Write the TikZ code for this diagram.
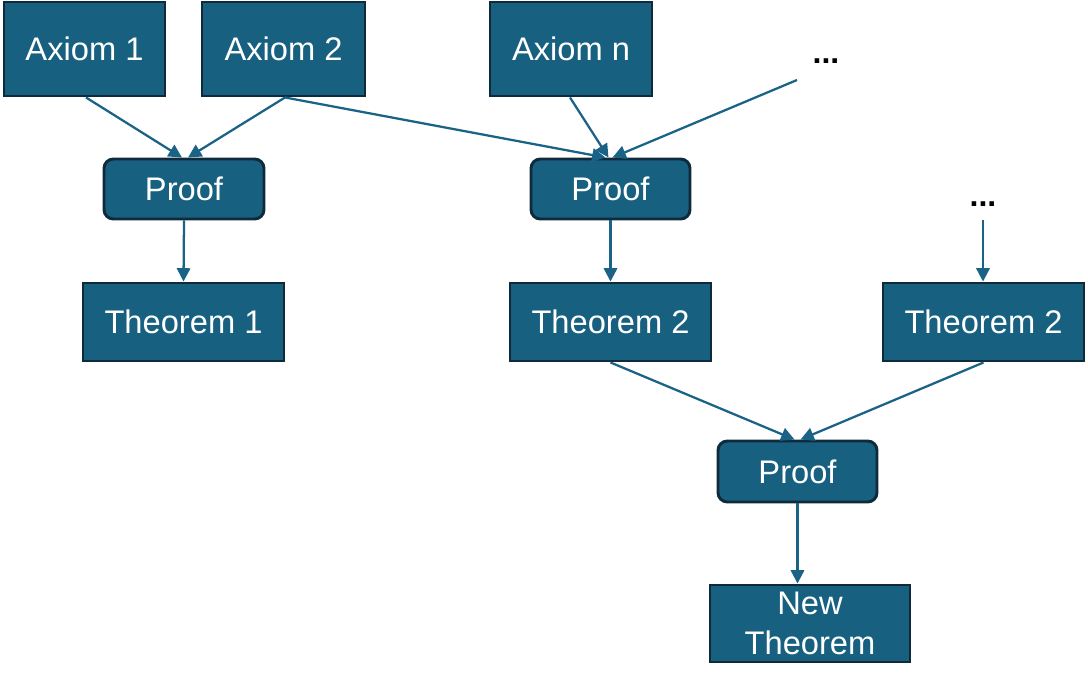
\documentclass[tikz,border=0pt]{standalone}
\usepackage{fontspec}
\setmainfont{Liberation Sans}
\usetikzlibrary{arrows.meta,calc}
\definecolor{boxfill}{HTML}{17607F}
\definecolor{boxline}{HTML}{0E2A3B}
\definecolor{arrowc}{HTML}{1B6386}
\tikzset{
  sqbox/.style={draw=boxline, fill=boxfill, line width=2.2pt, text=white, inner sep=0pt,
    font=\fontsize{24.5pt}{30pt}\selectfont, align=center},
  rbox/.style={sqbox, rounded corners=7pt},
  dotsnode/.style={inner sep=0pt, anchor=base, text=black, font=\fontsize{24pt}{28pt}\selectfont\bfseries},
  conn/.style={draw=arrowc, line width=1.7pt, -{Triangle[length=10pt,width=10pt]}}
}
\begin{document}
\begin{tikzpicture}[x=0.75pt,y=-0.75pt]
\useasboundingbox (0,0) rectangle (1088,690);
% boxes: centers and sizes in px
\node[sqbox, minimum width=161*0.75pt, minimum height=94*0.75pt] (a1) at (84.5,49) {Axiom 1};
\node[sqbox, minimum width=163*0.75pt, minimum height=94*0.75pt] (a2) at (283.5,49) {Axiom 2};
\node[sqbox, minimum width=162*0.75pt, minimum height=94*0.75pt] (an) at (571,49) {Axiom n};
\node[dotsnode] (d1) at (826,63) {...};
\coordinate (d1e) at (797,80);
\node[rbox, minimum width=160*0.75pt, minimum height=60*0.75pt] (p1) at (184,189) {Proof};
\node[rbox, minimum width=159*0.75pt, minimum height=60*0.75pt] (p2) at (610.5,189) {Proof};
\node[dotsnode] (d2) at (983,206) {...};
\coordinate (d2e) at (983,220);
\node[sqbox, minimum width=201*0.75pt, minimum height=78*0.75pt] (t1) at (183.5,322) {Theorem 1};
\node[sqbox, minimum width=201*0.75pt, minimum height=78*0.75pt] (t2) at (610.5,322) {Theorem 2};
\node[sqbox, minimum width=201*0.75pt, minimum height=78*0.75pt] (t3) at (983.5,322) {Theorem 2};
\node[rbox, minimum width=159*0.75pt, minimum height=61*0.75pt] (p3) at (797.5,471.5) {Proof};
\node[sqbox, minimum width=200*0.75pt, minimum height=77*0.75pt] (nt) at (810,623.5) {New\\Theorem};
% connectors
\draw[conn] ($(a1.south)+(1.5,0)$) -- ($(p1.north)+(-2,0)$);
\draw[conn] ($(a2.south)+(1.5,0)$) -- ($(p1.north)+(4,0)$);
\draw[conn] ($(a2.south)+(1.5,0)$) -- ($(p2.north)+(-5,0)$);
\draw[conn] ($(an.south)+(-1,0)$) -- ($(p2.north)+(-2,0)$);
\draw[conn] (d1e) -- ($(p2.north)+(2,0)$);
\draw[conn] (p1.south) -- (t1.north);
\draw[conn] (p2.south) -- (t2.north);
\draw[conn] (d2e) -- (d2e |- t3.north);
\draw[conn] (t2.south) -- ($(p3.north)+(-3,0)$);
\draw[conn] (t3.south) -- ($(p3.north)+(3,0)$);
\draw[conn] (p3.south) -- (p3.south |- nt.north);
\end{tikzpicture}
\end{document}
